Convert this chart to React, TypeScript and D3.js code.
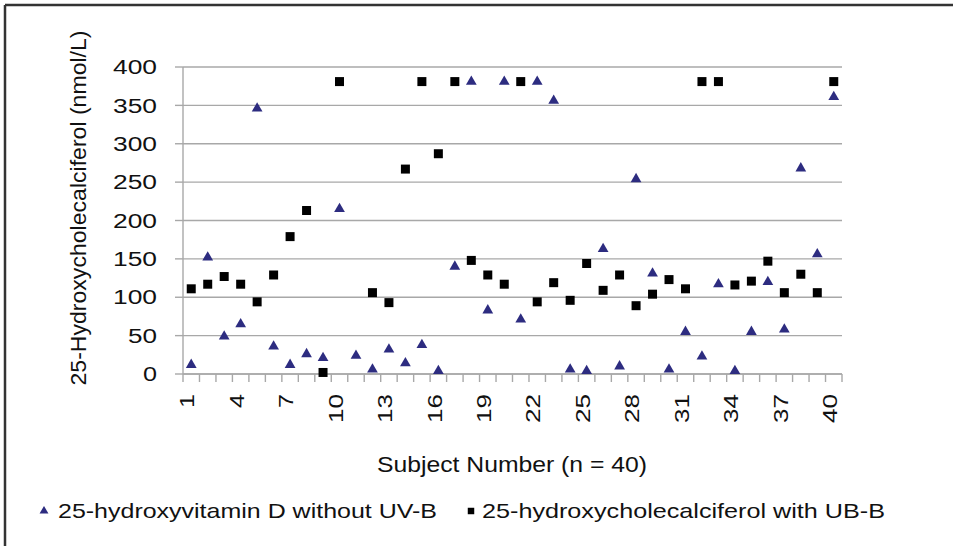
import * as d3 from "d3";

// subject numbers 1..40
const subjects = [
  1, 2, 3, 4, 5, 6, 7, 8, 9, 10, 11, 12, 13, 14, 15, 16, 17, 18, 19, 20,
  21, 22, 23, 24, 25, 26, 27, 28, 29, 30, 31, 32, 33, 34, 35, 36, 37, 38, 39, 40,
];

// triangles: 25-hydroxyvitamin D without UV-B
const withoutUVB = [
  12, 152, 49, 65, 346, 36, 12, 26, 21, 215, 24, 6, 32, 14, 38, 4, 140, 381, 83, 381,
  71, 381, 356, 6, 4, 163, 10, 254, 131, 6, 55, 23, 117, 4, 55, 120, 58, 268, 156, 361,
];

// squares: 25-hydroxycholecalciferol with UB-B (subject 11 has no value)
const withUVB: (number | null)[] = [
  111, 117, 127, 117, 94, 129, 179, 213, 2, 381, null, 106, 93, 267, 381, 287, 381, 148, 129, 117,
  381, 94, 119, 96, 144, 109, 129, 89, 104, 123, 111, 381, 381, 116, 121, 147, 106, 130, 106, 381,
];

const yTicks = [0, 50, 100, 150, 200, 250, 300, 350, 400];
const xLabels = [1, 4, 7, 10, 13, 16, 19, 22, 25, 28, 31, 34, 37, 40];

const seriesNames = ["25-hydroxyvitamin D without UV-B", "25-hydroxycholecalciferol with UB-B"];

const W = 953;
const H = 546;
const font = "'Liberation Sans', Arial, sans-serif";
const navy = "#2d2c80";
const grid = "#a8a8a8";

export default function App() {
  const x = d3.scaleBand<number>().domain(subjects).range([183, 842]).padding(0);
  const y = d3.scaleLinear().domain([0, 400]).range([374, 67]);
  const cx = (s: number) => x(s)! + x.bandwidth() / 2;

  const tri = d3.symbol().type(d3.symbolTriangle).size(50)()!;
  const sq = d3.symbol().type(d3.symbolSquare).size(81)()!;
  const triL = d3.symbol().type(d3.symbolTriangle).size(34)()!;
  const sqL = d3.symbol().type(d3.symbolSquare).size(42)()!;

  const boundaries = subjects.map((s) => x(s)!).concat([x.range()[1]]);

  return (
    <svg
      width={W}
      height={H}
      style={{ position: "absolute", left: 0, top: 0, display: "block", background: "#fff" }}
      fontFamily={font}
    >
      {/* frame */}
      <line x1={5} y1={5} x2={W} y2={5} stroke="#333" strokeWidth={2.5} />
      <line x1={5} y1={5} x2={5} y2={H} stroke="#333" strokeWidth={2.5} />

      {/* gridlines */}
      {yTicks.map((t) => (
        <g key={t}>
          <line x1={x.range()[0]} x2={x.range()[1]} y1={y(t)} y2={y(t)} stroke={grid} strokeWidth={1.4} />
          <line x1={175} x2={x.range()[0]} y1={y(t)} y2={y(t)} stroke={grid} strokeWidth={1.4} />
          <text
            x={157}
            y={y(t)}
            dy="0.36em"
            textAnchor="end"
            fontSize={20}
            fill="#111"
            textLength={String(t).length * 15 - 1}
            lengthAdjust="spacingAndGlyphs"
          >
            {t}
          </text>
        </g>
      ))}

      {/* axes */}
      <line x1={x.range()[0]} x2={x.range()[0]} y1={y(400)} y2={y(0)} stroke={grid} strokeWidth={1.4} />
      <line x1={x.range()[0]} x2={x.range()[1]} y1={y(0)} y2={y(0)} stroke={grid} strokeWidth={1.4} />
      {boundaries.map((b, i) => (
        <line key={i} x1={b} x2={b} y1={y(0)} y2={y(0) + 8} stroke={grid} strokeWidth={1.4} />
      ))}

      {/* x tick labels, rotated */}
      {xLabels.map((s) => (
        <text
          key={s}
          transform={`translate(${cx(s) - 4},394) rotate(-90)`}
          dy="0.36em"
          textAnchor="end"
          fontSize={20}
          fill="#111"
          textLength={String(s).length * 15 - 1}
          lengthAdjust="spacingAndGlyphs"
        >
          {s}
        </text>
      ))}

      {/* axis titles */}
      <text
        x={512}
        y={472}
        textAnchor="middle"
        fontSize={22}
        fill="#111"
        textLength={270}
        lengthAdjust="spacingAndGlyphs"
      >
        Subject Number (n = 40)
      </text>
      <text
        transform="translate(86,208) rotate(-90)"
        textAnchor="middle"
        fontSize={22}
        fill="#111"
        textLength={355}
        lengthAdjust="spacingAndGlyphs"
      >
        25-Hydroxycholecalciferol (nmol/L)
      </text>

      {/* markers */}
      {withUVB.map((v, i) =>
        v == null ? null : (
          <path key={"s" + i} d={sq} transform={`translate(${cx(subjects[i])},${y(v)})`} fill="#000" />
        )
      )}
      {withoutUVB.map((v, i) => (
        <path key={"t" + i} d={tri} transform={`translate(${cx(subjects[i])},${y(v)})`} fill={navy} />
      ))}

      {/* legend */}
      <path d={triL} transform="translate(44,511)" fill={navy} />
      <text x={58} y={518} fontSize={21} fill="#111" textLength={379} lengthAdjust="spacingAndGlyphs">
        {seriesNames[0]}
      </text>
      <path d={sqL} transform="translate(471,511)" fill="#000" />
      <text x={482} y={518} fontSize={21} fill="#111" textLength={403} lengthAdjust="spacingAndGlyphs">
        {seriesNames[1]}
      </text>
    </svg>
  );
}
